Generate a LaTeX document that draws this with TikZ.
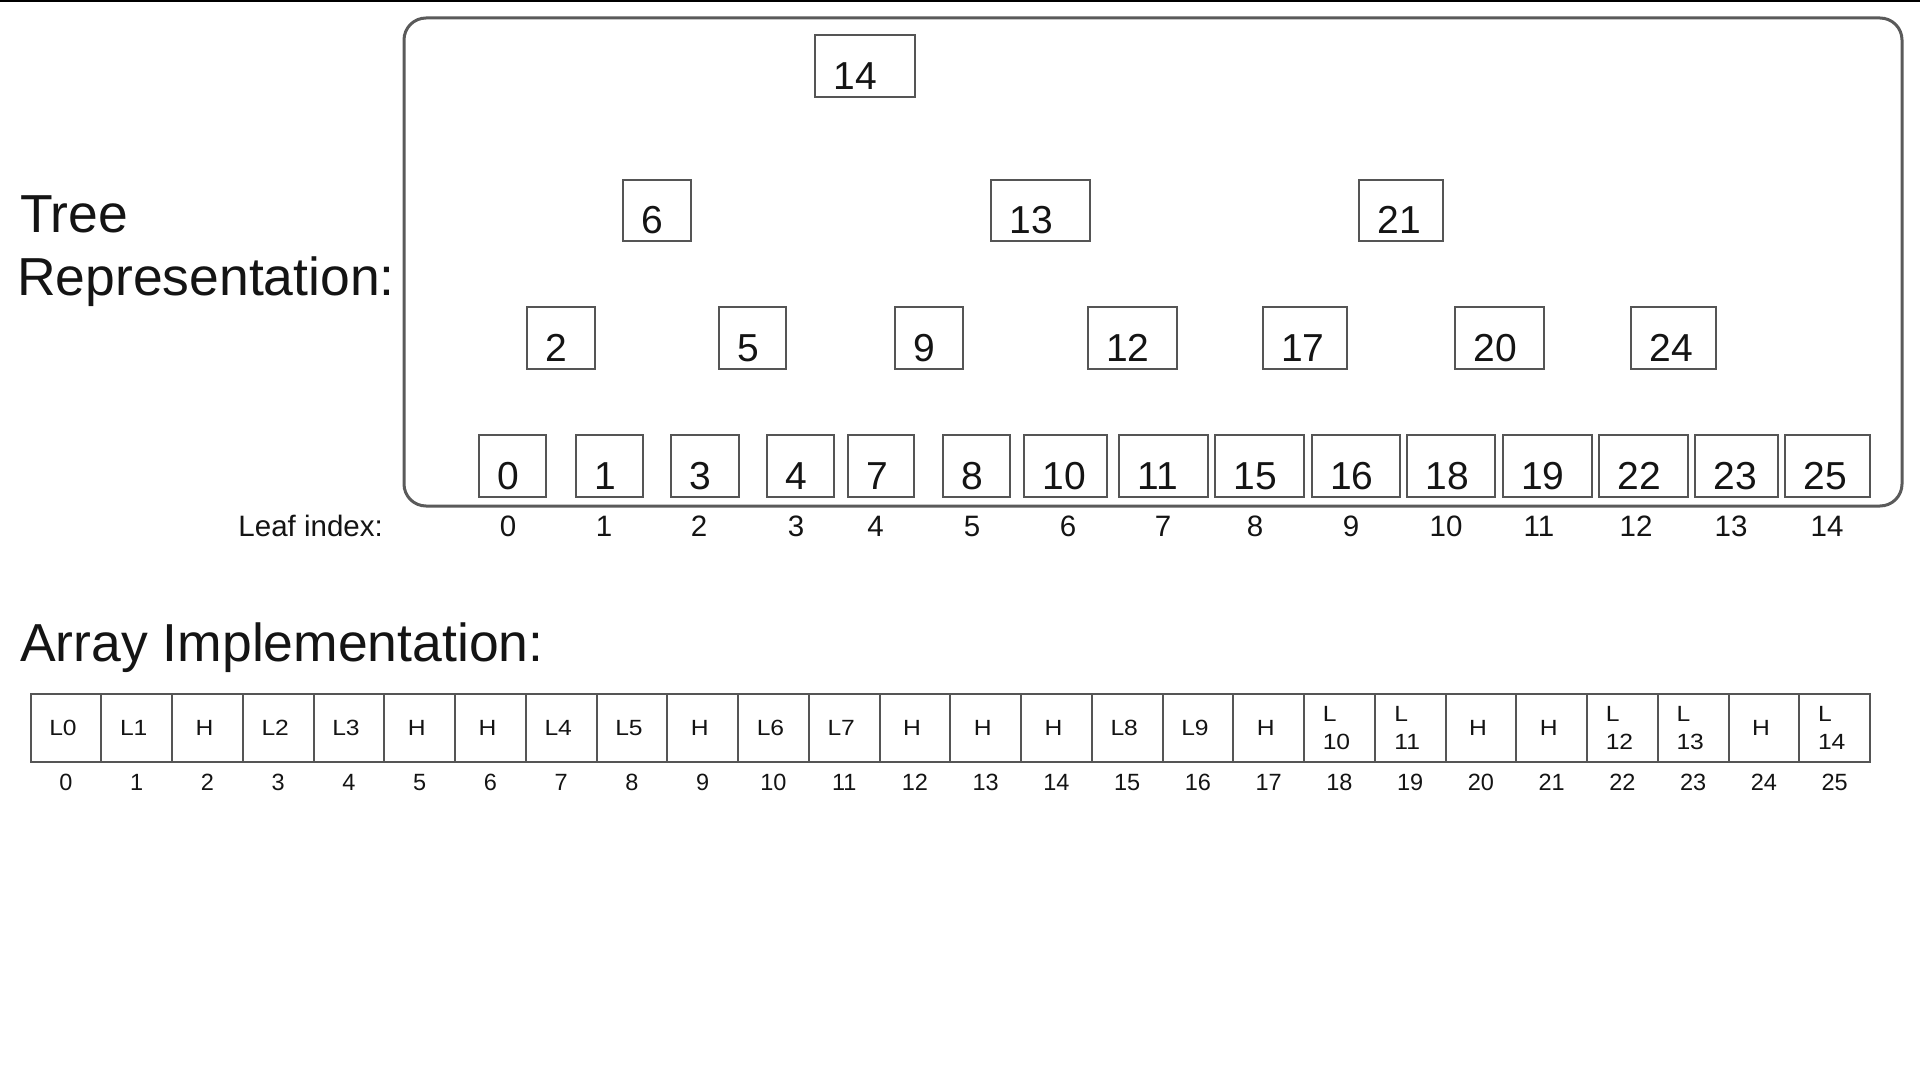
\documentclass[tikz,border=0pt]{standalone}
\usepackage{fontspec}
\setmainfont{Liberation Sans}
\newfontfamily\widesans[FakeStretch=1.12]{Liberation Sans}
\definecolor{boxgray}{HTML}{555555}
\definecolor{framegray}{HTML}{5A5A5A}
\definecolor{ink}{HTML}{141414}
\tikzset{
  tbox/.style={draw=boxgray, line width=2pt, inner xsep=18.5pt, inner ysep=0pt,
    text height=48pt, text depth=1pt, align=left, text=ink,
    font=\fontsize{39}{44}\selectfont},
  cellbox/.style={draw=boxgray, line width=2pt, inner sep=0pt,
    minimum width=70.75pt, minimum height=68pt, align=left, text=ink,
    font=\widesans\fontsize{22}{28}\selectfont},
  heading/.style={inner sep=0pt, anchor=base west, text=ink,
    font=\fontsize{53.5}{60}\selectfont},
  leafidx/.style={inner sep=0pt, anchor=base, text=ink,
    font=\fontsize{29.5}{34}\selectfont},
  arridx/.style={inner sep=0pt, anchor=base, text=ink,
    font=\fontsize{23.5}{28}\selectfont},
  frame/.style={draw=framegray, line width=3pt, rounded corners=22pt}
}
\newcommand\tb[6]{%
  \pgfmathsetmacro\tbcx{(#2+#4)/2}%
  \pgfmathsetmacro\tbcy{(#3+#5)/2}%
  \pgfmathsetmacro\tbw{#4-#2-37}%
  \pgfmathsetmacro\tbh{#5-#3}%
  \node[tbox, text width=\tbw pt, minimum height=\tbh pt] (#1) at (\tbcx,\tbcy) {#6};}
\begin{document}
\begin{tikzpicture}[x=1pt,y=-1pt]
\useasboundingbox (0,0) rectangle (1920,1075);
\fill[white] (0,0) rectangle (1920,1075);
\fill[black] (0,0) rectangle (1920,2.5);

% headings
\node[heading] (treeA) at (20,232.5) {Tree};
\node[heading] (treeB) at (17,296) {Representation:};
\node[heading] (arrh) at (20,661) {Array Implementation:};

% frame around the tree
\draw[frame] (404,18) rectangle (1902,506);

% root
\tb{r14}{815}{35}{915}{97}{14}
% level 1
\tb{n6}{623}{180}{691}{241}{6}
\tb{n13}{991}{180}{1090}{241}{13}
\tb{n21}{1359}{180}{1443}{241}{21}
% level 2
\tb{n2}{526.5}{307}{595}{369}{2}
\tb{n5}{719}{307}{786}{369}{5}
\tb{n9}{895}{307}{962.5}{369}{9}
\tb{n12}{1087.5}{307}{1177}{369}{12}
\tb{n17}{1262.5}{307}{1347}{369}{17}
\tb{n20}{1455}{307}{1544}{369}{20}
\tb{n24}{1631}{307}{1715.5}{369}{24}
% leaves
\tb{l0}{479}{434.5}{546}{496.5}{0}
\tb{l1}{575.5}{434.5}{643}{496.5}{1}
\tb{l2}{671}{434.5}{738.5}{496.5}{3}
\tb{l3}{766.5}{434.5}{834}{496.5}{4}
\tb{l4}{847.5}{434.5}{913.5}{496.5}{7}
\tb{l5}{943}{434.5}{1010}{496.5}{8}
\tb{l6}{1024}{434.5}{1107}{496.5}{10}
\tb{l7}{1119}{434.5}{1207.5}{496.5}{11}
\tb{l8}{1215}{434.5}{1304}{496.5}{15}
\tb{l9}{1311.5}{434.5}{1399.5}{496.5}{16}
\tb{l10}{1407}{434.5}{1495}{496.5}{18}
\tb{l11}{1502.5}{434.5}{1592}{496.5}{19}
\tb{l12}{1599}{434.5}{1687.5}{496.5}{22}
\tb{l13}{1695}{434.5}{1778}{496.5}{23}
\tb{l14}{1785}{434.5}{1870}{496.5}{25}

% leaf index row
\node[leafidx, anchor=base east] (leaflab) at (383,536) {Leaf index:};
\foreach \xx [count=\i from 0] in {508,604,699,796,875.5,972,1068,1163,1255,1351,1446,1539,1636,1731,1827}
  \node[leafidx] (li\i) at (\xx,536) {\i};

% array
\foreach \t [count=\i from 0] in {L0,L1,H,L2,L3,H,H,L4,L5,H,L6,L7,H,H,H,L8,L9,H,{L\\10},{L\\11},H,H,{L\\12},{L\\13},H,{L\\14}}{
  \pgfmathsetmacro\cx{30.6+70.75*(\i+0.5)}
  \node[cellbox] (a\i) at (\cx,728) {\t\hspace*{6pt}};
  \node[arridx] (ai\i) at (\cx,790) {\i};
}
\end{tikzpicture}
\end{document}
